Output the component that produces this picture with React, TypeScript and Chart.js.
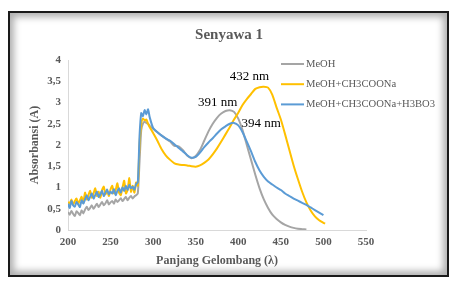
import { useEffect, useRef } from "react";
import { Chart, registerables } from "chart.js";

Chart.register(...registerables);

const chartTitle = "Senyawa 1";
const xAxisTitle = "Panjang Gelombang (λ)";
const yAxisTitle = "Absorbansi (A)";

const wavelengths = [
  200, 202, 204, 206, 208, 210, 212, 214, 216, 218,
  220, 222, 224, 226, 228, 230, 232, 234, 236, 238,
  240, 242, 244, 246, 248, 250, 252, 254, 256, 258,
  260, 262, 264, 266, 268, 270, 272, 274, 276, 278,
  280, 282, 284,
  286, 288, 290, 292, 294, 296,
  300, 305, 310, 315, 320, 325, 330, 335, 340, 345,
  350, 355, 360, 365, 370, 375, 380, 385, 390, 395,
  400, 405, 410, 415, 420, 425, 430, 435, 440, 445,
  450, 455, 460, 465, 470, 475, 480, 485, 490, 495,
  500, 502,
];

const absMeOH = [
  0.42, 0.36, 0.45, 0.38, 0.33, 0.44, 0.40, 0.35, 0.46, 0.39,
  0.48, 0.55, 0.47, 0.52, 0.58, 0.50, 0.56, 0.62, 0.54, 0.60,
  0.66, 0.58, 0.63, 0.70, 0.60, 0.65, 0.68, 0.62, 0.72, 0.66,
  0.70, 0.75, 0.68, 0.73, 0.78, 0.70, 0.76, 0.80, 0.74, 0.79,
  0.82, 0.86, 1.60,
  2.35, 2.50, 2.55, 2.52, 2.50, 2.45,
  2.38, 2.30, 2.22, 2.15, 2.08, 1.98, 1.97, 1.88, 1.75, 1.69,
  1.74, 1.88, 2.10, 2.32, 2.50, 2.64, 2.74, 2.80, 2.82, 2.78,
  2.62, 2.35, 2.00, 1.65, 1.30, 0.98, 0.72, 0.52, 0.36, 0.26,
  0.18, 0.12, 0.08, 0.05, 0.03, 0.02, 0.01, null, null, null,
  null, null,
];

const absNaOAc = [
  0.66, 0.62, 0.72, 0.60, 0.68, 0.74, 0.62, 0.70, 0.78, 0.64,
  0.88, 0.72, 0.82, 0.92, 0.76, 0.86, 0.98, 0.80, 0.90, 0.76,
  0.94, 1.02, 0.84, 0.92, 0.80, 0.96, 1.04, 0.86, 0.94, 1.10,
  0.88, 0.82, 1.00, 1.16, 0.86, 0.94, 1.22, 0.90, 1.04, 0.88,
  1.12, 1.04, 2.00,
  2.50, 2.62, 2.58, 2.60, 2.50, 2.42,
  2.28, 2.10, 1.90, 1.75, 1.65, 1.57, 1.54, 1.53, 1.52, 1.50,
  1.49, 1.52, 1.58, 1.66, 1.78, 1.92, 2.08, 2.25, 2.42, 2.60,
  2.76, 2.94, 3.08, 3.20, 3.32, 3.36, 3.37, 3.35, 3.18, 2.88,
  2.60, 2.25, 1.88, 1.52, 1.20, 0.90, 0.65, 0.46, 0.32, 0.23,
  0.17, 0.15,
];

const absBoric = [
  0.62, 0.52, 0.68, 0.58, 0.55, 0.66, 0.60, 0.54, 0.70, 0.62,
  0.72, 0.82, 0.70, 0.78, 0.86, 0.74, 0.82, 0.90, 0.78, 0.84,
  0.92, 0.80, 0.88, 0.95, 0.84, 0.90, 0.86, 0.96, 0.82, 0.92,
  0.98, 0.88, 1.00, 0.92, 1.04, 0.94, 1.06, 0.98, 1.02, 0.95,
  1.08, 1.12, 2.20,
  2.75, 2.68, 2.82, 2.72, 2.84, 2.65,
  2.40, 2.30, 2.22, 2.15, 2.10, 2.02, 1.93, 1.85, 1.76, 1.70,
  1.72, 1.82, 1.95, 2.06, 2.16, 2.27, 2.37, 2.44, 2.50, 2.52,
  2.46, 2.30, 2.08, 1.85, 1.60, 1.40, 1.25, 1.14, 1.07, 1.00,
  0.94, 0.86, 0.80, 0.74, 0.69, 0.64, 0.59, 0.53, 0.47, 0.41,
  0.35, null,
];

const seriesNames = ["MeOH", "MeOH+CH3COONa", "MeOH+CH3COONa+H3BO3"];
const seriesColors = ["#A5A5A5", "#FFC000", "#5B9BD5"];
const seriesValues = [absMeOH, absNaOAc, absBoric];

const peakLabels = ["391 nm", "432 nm", "394 nm"];
const peakWavelengths = [391, 432, 394];
const peakAbsorbances = [2.82, 3.37, 2.52];

const xMin = 200;
const xMax = 550;
const xStep = 50;
const yMin = 0;
const yMax = 4;
const yStep = 0.5;

const SERIF = '"Liberation Serif", "Times New Roman", serif';
const TEXT_GRAY = "#595959";

const textPlugin = {
  id: "customTexts",
  afterDraw(chart: any) {
    const { ctx, chartArea, scales } = chart;
    ctx.save();
    // title
    ctx.fillStyle = TEXT_GRAY;
    ctx.font = `bold 15px ${SERIF}`;
    ctx.textAlign = "center";
    ctx.textBaseline = "middle";
    ctx.fillText(chartTitle, 229, 35);

    // x axis title
    ctx.font = `bold 12px ${SERIF}`;
    ctx.fillText(xAxisTitle, (chartArea.left + chartArea.right) / 2, 261);

    // y axis title
    ctx.save();
    ctx.translate(35, (chartArea.top + chartArea.bottom) / 2);
    ctx.rotate(-Math.PI / 2);
    ctx.fillText(yAxisTitle, 0, 0);
    ctx.restore();

    // legend
    ctx.font = `10.6px ${SERIF}`;
    ctx.textAlign = "left";
    for (let i = 0; i < seriesNames.length; i++) {
      const y = 64 + i * 20.2;
      ctx.strokeStyle = seriesColors[i];
      ctx.lineWidth = 2;
      ctx.beginPath();
      ctx.moveTo(281, y);
      ctx.lineTo(304, y);
      ctx.stroke();
      ctx.fillStyle = TEXT_GRAY;
      ctx.fillText(seriesNames[i], 306, y);
    }

    // peak annotations
    const offsets = [
      [-13, -8],
      [-16, -10],
      [28, 1],
    ];
    ctx.font = `13px ${SERIF}`;
    ctx.textAlign = "center";
    ctx.fillStyle = "#000000";
    for (let i = 0; i < peakLabels.length; i++) {
      const px = scales.x.getPixelForValue(peakWavelengths[i]);
      const py = scales.y.getPixelForValue(peakAbsorbances[i]);
      ctx.fillText(peakLabels[i], px + offsets[i][0], py + offsets[i][1]);
    }
    ctx.restore();
  },
};

export default function App() {
  const canvasRef = useRef<HTMLCanvasElement | null>(null);

  useEffect(() => {
    const canvas = canvasRef.current;
    if (!canvas) return;
    const datasets = seriesValues.map((vals, i) => ({
      label: seriesNames[i],
      data: wavelengths.map((w, j) => ({ x: w, y: vals[j] })),
      borderColor: seriesColors[i],
      backgroundColor: seriesColors[i],
      borderWidth: 2,
      pointRadius: 0,
      tension: 0.2,
      fill: false,
      spanGaps: false,
      order: seriesNames.length - i,
    }));
    const tickFont = { family: SERIF, size: 11, weight: "bold" as const };
    const chart = new Chart(canvas, {
      type: "line",
      data: { datasets },
      options: {
        animation: false,
        responsive: false,
        devicePixelRatio: 1,
        layout: { padding: { left: 0, top: 60, right: 85, bottom: 0 } },
        plugins: {
          legend: { display: false },
          title: { display: false },
          tooltip: { enabled: false },
        },
        scales: {
          x: {
            type: "linear",
            min: xMin,
            max: xMax,
            ticks: {
              stepSize: xStep,
              color: TEXT_GRAY,
              font: tickFont,
              padding: 6,
            },
            grid: { display: false, drawTicks: false },
            border: { display: true, color: "#D9D9D9", width: 1 },
            afterFit: (s: any) => {
              s.height = 51;
            },
          },
          y: {
            type: "linear",
            min: yMin,
            max: yMax,
            ticks: {
              stepSize: yStep,
              color: TEXT_GRAY,
              font: tickFont,
              padding: 7,
              callback: (v: any) => String(v).replace(".", ","),
            },
            grid: { display: false, drawTicks: false },
            border: { display: true, color: "#D9D9D9", width: 1 },
            afterFit: (s: any) => {
              s.width = 68;
            },
          },
        },
      },
      plugins: [textPlugin],
    });
    return () => chart.destroy();
  }, []);

  return (
    <div style={{ position: "fixed", left: 0, top: 0, width: 451, height: 281, background: "#ffffff" }}>
      <div
        style={{
          position: "absolute",
          left: 8,
          top: 11,
          width: 441,
          height: 266,
          boxSizing: "border-box",
          border: "2px solid #1a1a1a",
          boxShadow: "inset 0 0 7px 4px #b0b0b0",
          background: "#ffffff",
        }}
      />
      <canvas
        ref={canvasRef}
        width={451}
        height={281}
        style={{ position: "absolute", left: 0, top: 0, width: 451, height: 281 }}
      />
    </div>
  );
}
